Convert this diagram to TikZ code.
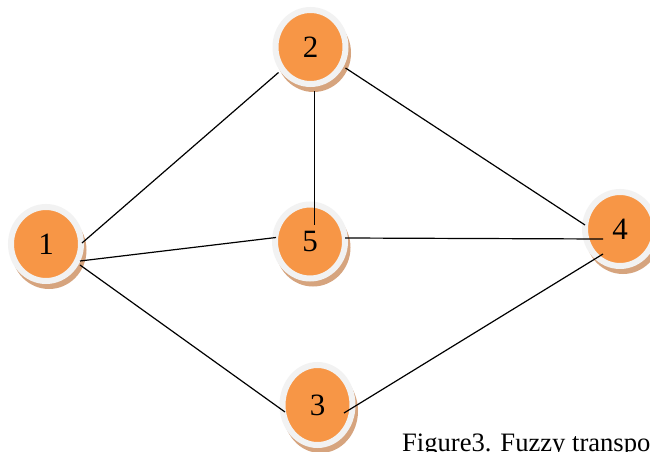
\documentclass[tikz,border=0pt]{standalone}
\usepackage{fontspec}
\setmainfont{Liberation Serif}
\usetikzlibrary{calc,shapes.geometric}
\definecolor{vorange}{HTML}{F79646}
\definecolor{vring}{HTML}{F2F2F2}
\definecolor{vshadow}{HTML}{D6A47E}
\tikzset{
  vtx/.style={ellipse, fill=vorange, draw=vring, line width=6pt,
    minimum width=70pt, minimum height=74pt, inner sep=0pt,
    font=\fontsize{31}{35}\selectfont},
  edge/.style={line width=1.2pt, black},
  caption/.style={anchor=base west, inner sep=0pt, font=\fontsize{26.6}{30}\selectfont}
}
\newcommand\vtxdraw[5]{% name, x, y, label, extra height
  \fill[vshadow] ($(#2,#3)+(3,6)$) ellipse [x radius=37.5pt, y radius={39pt+#5/2}];
  \node[vtx, minimum height={74pt+#5}] (#1) at (#2,#3) {#4};
}
\begin{document}
\begin{tikzpicture}[x=1pt,y=-1pt]
\clip (0,0) rectangle (650,452);
\fill[white] (0,0) rectangle (650,452);
\vtxdraw{n1}{46}{244}{1}{0pt}
\vtxdraw{n2}{310.5}{47}{2}{0pt}
\vtxdraw{n3}{317.5}{405}{3}{6pt}
\vtxdraw{n4}{620}{229}{4}{0pt}
\vtxdraw{n5}{310}{241.5}{5}{0pt}
\draw[edge] ($(n1)+(36,-1)$) -- ($(n2)+(-32,25.5)$);
\draw[edge] ($(n1)+(34,17)$) -- ($(n5)+(-34,-4)$);
\draw[edge] ($(n1)+(34,21)$) -- ($(n3)+(-32.5,7)$);
\draw[edge] ($(n2)+(4,44)$) -- ($(n5)+(4.5,-16.5)$);
\draw[edge] ($(n2)+(35,21)$) -- ($(n4)+(-35,-4)$);
\draw[edge] ($(n5)+(35,-3.5)$) -- ($(n4)+(-17,10)$);
\draw[edge] ($(n3)+(26.5,8)$) -- ($(n4)+(-17,25)$);
\node[caption] (cap) at (402,451) {Figure3. Fuzzy transportation};
\end{tikzpicture}
\end{document}
